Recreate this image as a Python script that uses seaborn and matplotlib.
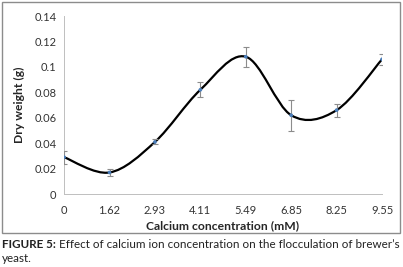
import numpy as np
import pandas as pd
import matplotlib
matplotlib.use("Agg")
import matplotlib.pyplot as plt
from matplotlib.path import Path
from matplotlib.patches import PathPatch, Rectangle
import seaborn as sns

# Data
concentration = ["0", "1.62", "2.93", "4.11", "5.49", "6.85", "8.25", "9.55"]
dry_weight = [0.029, 0.017, 0.041, 0.082, 0.108, 0.062, 0.066, 0.106]
error = [0.005, 0.003, 0.002, 0.006, 0.008, 0.012, 0.005, 0.0045]
y_ticks = [0, 0.02, 0.04, 0.06, 0.08, 0.1, 0.12, 0.14]
y_tick_labels = ["0", "0.02", "0.04", "0.06", "0.08", "0.1", "0.12", "0.14"]

df = pd.DataFrame({"pos": range(len(concentration)), "weight": dry_weight, "err": error})

sns.set_style("white")
plt.rcParams["font.family"] = ["Lato", "DejaVu Sans"]

fig = plt.figure(figsize=(4.03, 2.67), dpi=100)
ax = fig.add_axes([0.159, 0.273, 0.789, 0.667])

# smoothed line like Excel (Catmull-Rom as cubic Bezier)
pts = df[["pos", "weight"]].to_numpy()
n = len(pts)
verts = [pts[0]]
codes = [Path.MOVETO]
for i in range(n - 1):
    p0 = pts[i - 1] if i > 0 else pts[i]
    p1 = pts[i]
    p2 = pts[i + 1]
    p3 = pts[i + 2] if i + 2 < n else pts[i + 1]
    c1 = p1 + (p2 - p0) / 6
    c2 = p2 - (p3 - p1) / 6
    verts += [c1, c2, p2]
    codes += [Path.CURVE4] * 3
ax.add_patch(PathPatch(Path(verts, codes), facecolor="none", edgecolor="black",
                       lw=1.6, transform=ax.transData, zorder=2))

ax.errorbar(df["pos"], df["weight"], yerr=df["err"], fmt="none", ecolor="#8c8c8c",
            elinewidth=0.8, capsize=2.2, capthick=0.8, zorder=3)
sns.scatterplot(data=df, x="pos", y="weight", ax=ax, color="#4a7ebb", s=7,
                edgecolor="none", zorder=4)

ax.set_xlim(0, len(concentration) - 1)
ax.set_ylim(0, 0.14)
ax.set_xticks(range(len(concentration)))
ax.set_xticklabels(concentration)
ax.set_yticks(y_ticks)
ax.set_yticklabels(y_tick_labels)
ax.tick_params(axis="both", labelsize=8, colors="#bfbfbf", labelcolor="#333333",
               length=2.5, width=0.6, direction="out", pad=3)
ax.tick_params(axis="x", pad=5)
for s in ["top", "right"]:
    ax.spines[s].set_visible(False)
for s in ["left", "bottom"]:
    ax.spines[s].set_color("#bfbfbf")
    ax.spines[s].set_linewidth(0.7)

ax.set_xlabel("Calcium concentration (mM)", fontsize=8.7, fontweight="bold", labelpad=3)
ax.set_ylabel("Dry weight (g)", fontsize=8.7, fontweight="bold", labelpad=7)

# chart border
fig.patches.append(Rectangle((2 / 403, 1 - 233 / 267), 398 / 403, 231 / 267,
                             transform=fig.transFigure, fill=False,
                             edgecolor="#8c8c8c", lw=1))

# caption
fig.canvas.draw()
r = fig.canvas.get_renderer()
t1 = fig.text(0.005, 1 - 245 / 267, "FIGURE 5:", fontsize=8.35, fontweight="bold",
              color="#222222", va="center")
bb = t1.get_window_extent(r)
fig.text((bb.x1 + 3) / fig.bbox.width, 1 - 245 / 267,
         "Effect of calcium ion concentration on the flocculation of brewer\u2019s",
         fontsize=8.35, color="#222222", va="center")
fig.text(0.005, 1 - 258 / 267, "yeast.", fontsize=8.35, color="#222222", va="center")

fig.savefig("out.png", dpi=100)
